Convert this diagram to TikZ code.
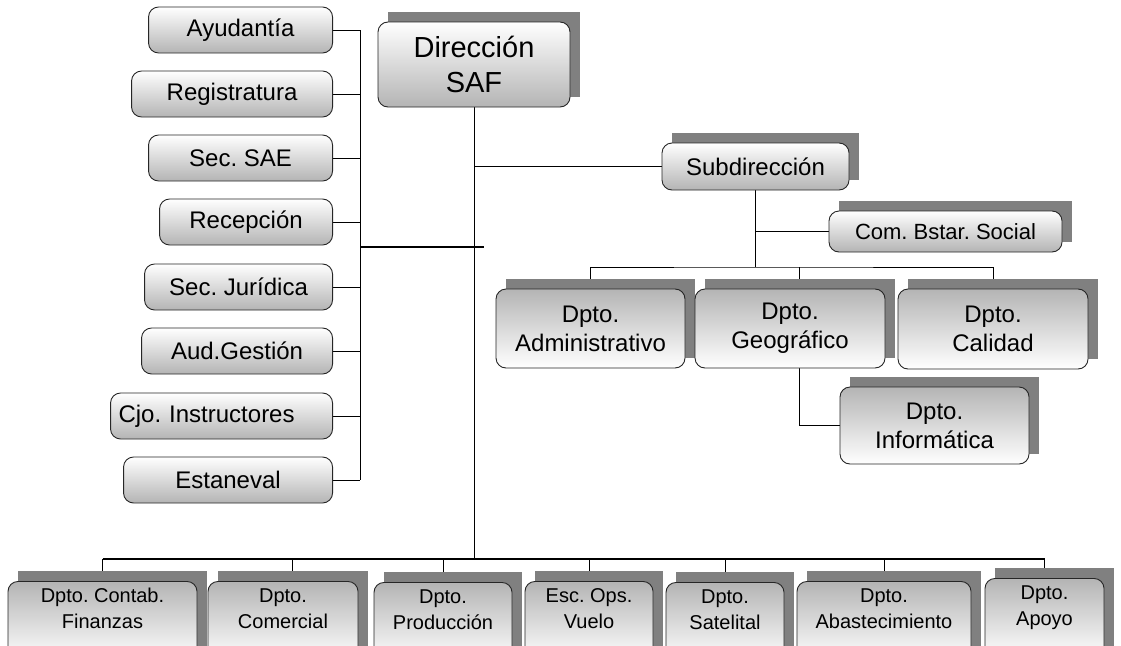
\documentclass[tikz,border=0pt]{standalone}
\usepackage{fontspec}
\setmainfont{Liberation Sans}
\frenchspacing
\usetikzlibrary{calc,backgrounds}

\definecolor{sombra}{HTML}{808080}
\definecolor{relleno}{HTML}{B4B4B4}

\tikzset{
  caja/.style={draw=black!85,line width=0.9pt,rounded corners=10pt,inner sep=0pt,align=center},
  cajaclara/.style={caja,top color=white,bottom color=relleno},
  cajaosc/.style={caja,top color=relleno,bottom color=white},
  izq/.style={cajaclara,anchor=east,minimum height=46pt,font=\fontsize{24}{29}\selectfont},
  dpto/.style={cajaosc,font=\fontsize{24}{29}\selectfont},
  abajo/.style={cajaosc,anchor=north,minimum height=80pt,font=\fontsize{20}{26}\selectfont},
  linea/.style={line width=1pt},
  barra/.style={line width=1.8pt}
}

\begin{document}
\begin{tikzpicture}[x=1pt,y=-1pt]
\useasboundingbox (0,0) rectangle (1121,645);
\clip (0,0) rectangle (1121,645);
% \draw[style=help lines,gray!50] (0,0) grid[step=50] (1121,645);
% staff column
\node[izq,minimum width=184pt] (ayu) at (333,30) {Ayudantía};
\node[izq,minimum width=201pt] (reg) at (333,94) {Registratura};
\node[izq,minimum width=184pt] (sae) at (333,158) {Sec. SAE};
\node[izq,minimum width=173pt] (rec) at (333,222) {Recepción};
\node[izq,minimum width=188pt] (jur) at (333,287) {Sec. Jurídica};
\node[izq,minimum width=191pt] (aud) at (333,351) {Aud.Gestión};
\node[izq,minimum width=222pt,text width=206pt,align=left] (cjo) at (333,416) {Cjo. Instructores};
\node[izq,minimum width=209pt] (est) at (333,480) {Estaneval};
% direction and subdirection
\node[cajaclara,minimum width=192pt,minimum height=85pt,font=\fontsize{29}{35}\selectfont] (dir) at (474,64.5) {Dirección\\SAF};
\node[cajaclara,minimum width=187pt,minimum height=47pt,font=\fontsize{24}{29}\selectfont] (sub) at (755.5,166.5) {Subdirección};
\node[cajaclara,minimum width=233pt,minimum height=41pt,font=\fontsize{22}{26}\selectfont] (com) at (945.5,231.5) {Com. Bstar. Social};
\node[dpto,minimum width=189pt,minimum height=79pt] (adm) at (590.5,328.5) {Dpto.\\Administrativo};
\node[dpto,minimum width=190pt,minimum height=79pt] (geo) at (790,328.5) {Dpto.\\Geográfico};
\node[dpto,minimum width=190pt,minimum height=80pt] (cal) at (993,329) {Dpto.\\Calidad};
\node[dpto,minimum width=189pt,minimum height=77pt] (inf) at (934.5,425.5) {Dpto.\\Informática};
% bottom row
\node[abajo,minimum width=189pt] (contab) at (102.5,581) {Dpto. Contab.\\Finanzas\\~};
\node[abajo,minimum width=150pt] (cml) at (283,581) {Dpto.\\Comercial\\~};
\node[abajo,minimum width=138pt] (pro) at (443,582) {Dpto.\\Producción\\~};
\node[abajo,minimum width=128pt] (esc) at (589,581) {Esc. Ops.\\Vuelo\\~};
\node[abajo,minimum width=118pt] (sat) at (725,582) {Dpto.\\Satelital\\~};
\node[abajo,minimum width=174pt] (aba) at (884,581) {Dpto.\\Abastecimiento\\~};
\node[abajo,minimum width=119pt] (apo) at (1044.5,578) {Dpto.\\Apoyo\\~};

\coordinate (bi) at (360,30);
\coordinate (cruce) at (484,247);
\coordinate (sb) at (758,267);
\coordinate (bb) at (474,559);

\begin{scope}[on background layer]
\foreach \n in {ayu,reg,sae,rec,jur,aud,cjo,est}
  \draw[linea] (\n.east) -- (\n.east -| bi);
\draw[linea] (bi |- ayu.east) -- (bi |- est.east);
\draw[barra] (cruce -| bi) -- (cruce);
\draw[linea] (dir.south) -- (bb);
\draw[linea] (sub.west) -- (sub.west -| dir.south);
\draw[linea] (sub.south) -- (sub.south |- sb);
\draw[linea] (com.west) -- (com.west -| sub.south);
\draw[linea] (adm.north) |- (sub.south |- sb) -| (cal.north);
\draw[linea] ([xshift=9pt]geo.north) -- ([xshift=9pt]geo.north |- sb);
\draw[linea] ([xshift=9pt]geo.south) |- (inf.west);
\draw[barra] (bb -| contab.north) -- (bb -| apo.north);
\foreach \n in {contab,pro,esc,sat,aba,apo}
  \draw[linea] (bb -| \n.north) -- (\n.north);
\draw[linea] ([xshift=9pt]cml.north) -- ([xshift=9pt]cml.north |- bb);
% shadows
\foreach \n in {dir,sub,com,adm,geo,cal,inf,contab,cml,pro,esc,sat,aba,apo}
  \fill[sombra] ($(\n.south west)+(10,-10)$) rectangle ($(\n.north east)+(10,-10)$);
\end{scope}
\end{tikzpicture}
\end{document}
